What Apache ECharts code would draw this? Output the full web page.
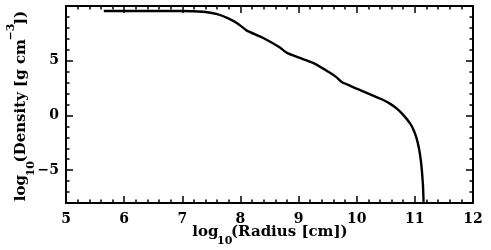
<!DOCTYPE html>
<html><head><meta charset="utf-8">
<script src="https://cdn.jsdelivr.net/npm/echarts@6/dist/echarts.min.js"></script>
<style>html,body{margin:0;padding:0;background:#fff}#c{width:491px;height:250px}</style>
</head><body><div id="c"></div>
<script>
var radius = [5.65, 6.0, 6.5, 6.8, 7.0, 7.2, 7.4, 7.6, 7.8, 7.95, 8.05, 8.11, 8.4, 8.68, 8.8, 9.0, 9.25, 9.54, 9.65, 9.74, 10.0, 10.2, 10.4, 10.55, 10.69, 10.8, 10.92, 10.98, 11.03, 11.07, 11.1, 11.12, 11.14, 11.15];
var density = [9.55, 9.55, 9.55, 9.55, 9.54, 9.52, 9.45, 9.25, 8.85, 8.4, 8.0, 7.75, 7.05, 6.2, 5.72, 5.3, 4.8, 3.9, 3.5, 3.05, 2.45, 2.0, 1.55, 1.15, 0.62, 0.05, -0.75, -1.35, -2.1, -3.0, -4.0, -5.0, -6.4, -7.9];
var yMajorTicks = [-5, 0, 5];
var xTitle = '{a|log}{s|10}{a|(Radius [cm])}';
var yTitle = '{a|log}{s|10}{a|(Density [g cm}{p|\u22123}{a|])}';

var FONT = 'DejaVu Serif';
var lineC = '#000';
var chart = echarts.init(document.getElementById('c'));
var pts = radius.map(function (r, i) { return [r, density[i]]; });

function xAx(pos, labels) {
  return {
    type: 'value', position: pos, min: 5, max: 12, interval: 1, gridIndex: 0,
    axisLine: { show: true, onZero: false, lineStyle: { color: lineC, width: 2 } },
    axisTick: { show: true, inside: true, length: 7, lineStyle: { color: lineC, width: 1.5 } },
    minorTick: { show: true, splitNumber: 5, length: 3.5, lineStyle: { color: lineC, width: 1.5 } },
    axisLabel: { show: labels, margin: 9, fontFamily: FONT, fontWeight: 'bold', fontSize: 14, color: '#000' },
    splitLine: { show: false }, minorSplitLine: { show: false }
  };
}
function yMinor(pos) {
  return {
    type: 'value', position: pos, min: -8, max: 10, interval: 1,
    axisLine: { show: true, onZero: false, lineStyle: { color: lineC, width: 2 } },
    axisTick: { show: true, inside: true, length: 3.5, lineStyle: { color: lineC, width: 1.5 } },
    axisLabel: { show: false }, splitLine: { show: false }
  };
}
function yMajor(pos, labels) {
  return {
    type: 'value', position: pos, min: -8, max: 10, interval: 1,
    axisLine: { show: false },
    axisTick: { show: true, inside: true, length: 7, customValues: yMajorTicks, lineStyle: { color: lineC, width: 1.5 } },
    axisLabel: { show: labels, customValues: yMajorTicks, margin: 7, fontFamily: FONT, fontWeight: 'bold', fontSize: 14, color: '#000',
      formatter: function (v) { return v < 0 ? '\u2212' + (-v) : String(v); } },
    splitLine: { show: false }
  };
}

var MAINF = 'bold 15px "DejaVu Serif"';
var SUBF = 'bold 11px "DejaVu Serif"';
var mainX = { font: MAINF, fill: '#000', lineHeight: 30, verticalAlign: 'middle' };
var mainY = { font: MAINF, fill: '#000', lineHeight: 31, verticalAlign: 'middle' };
var sub = { font: SUBF, fill: '#000', lineHeight: 10, width: 12.5, verticalAlign: 'bottom' };
var sup = { font: SUBF, fill: '#000', lineHeight: 8, width: 14, verticalAlign: 'top' };

chart.setOption({
  animation: false,
  backgroundColor: '#fff',
  grid: { left: 66, right: 18, top: 6, bottom: 47, containLabel: false },
  xAxis: [xAx('bottom', true), xAx('top', false)],
  yAxis: [yMinor('left'), yMinor('right'), yMajor('left', true), yMajor('right', false)],
  series: [{
    type: 'line', data: pts, xAxisIndex: 0, yAxisIndex: 0, showSymbol: false, smooth: 0.15,
    lineStyle: { color: '#000', width: 2.4 }
  }],
  graphic: [
    { type: 'text', x: 270, y: 232, style: { text: xTitle, font: MAINF, fill: '#000', rich: { a: mainX, s: sub }, align: 'center', verticalAlign: 'middle' } },
    { type: 'text', x: 21, y: 106, rotation: Math.PI / 2, style: { text: yTitle, font: MAINF, fill: '#000', rich: { a: mainY, s: sub, p: sup }, align: 'center', verticalAlign: 'middle' } }
  ]
});
</script></body></html>
